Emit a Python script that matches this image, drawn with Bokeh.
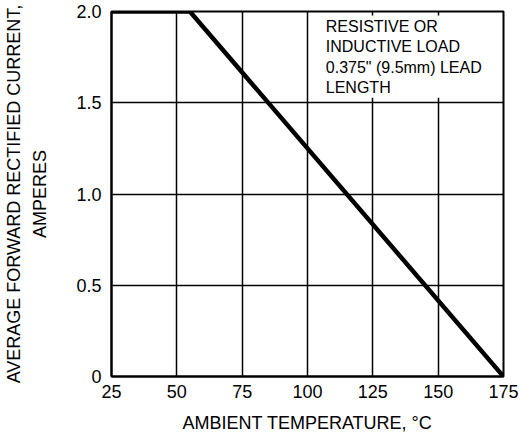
from bokeh.plotting import figure
from bokeh.models import FixedTicker, BoxAnnotation, Label
from bokeh.embed import file_html
from bokeh.resources import INLINE

# Data
temperature = [25, 55, 175]
current = [2.0, 2.0, 0.0]
x_ticks = [25, 50, 75, 100, 125, 150, 175]
y_ticks = [0, 0.5, 1.0, 1.5, 2.0]
y_tick_labels = {0: "0", 0.5: "0.5", 1.0: "1.0", 1.5: "1.5", 2.0: "2.0"}
note_text = "RESISTIVE OR\nINDUCTIVE LOAD\n0.375\" (9.5mm) LEAD\nLENGTH"
x_label = "AMBIENT TEMPERATURE, \u00b0C"
y_label = "AVERAGE FORWARD RECTIFIED CURRENT,\nAMPERES"

FONT = "Liberation Sans"

p = figure(frame_width=392, frame_height=365, output_backend="svg", toolbar_location=None,
           x_range=(25, 175), y_range=(0, 2.0),
           min_border_left=111, min_border_right=16, min_border_top=11, min_border_bottom=64)

p.background_fill_color = "white"
p.border_fill_color = "white"
p.outline_line_color = "black"
p.outline_line_width = 2
p.outline_line_alpha = 1.0

p.xaxis.ticker = FixedTicker(ticks=x_ticks)
p.yaxis.ticker = FixedTicker(ticks=y_ticks)
p.yaxis.major_label_overrides = y_tick_labels

for ax in (p.xaxis, p.yaxis):
    ax.axis_line_color = "black"
    ax.axis_line_width = 2
    ax.major_tick_out = 0
    ax.major_tick_in = 0
    ax.minor_tick_out = 0
    ax.minor_tick_in = 0
    ax.major_label_text_font = FONT
    ax.major_label_text_font_size = "18px"
    ax.major_label_text_color = "black"
    ax.axis_label_text_font = FONT
    ax.axis_label_text_font_size = "18px"
    ax.axis_label_text_font_style = "normal"
    ax.axis_label_text_color = "black"

p.xaxis.axis_label = x_label
p.yaxis.axis_label = y_label
p.xaxis.major_label_standoff = 8
p.yaxis.major_label_standoff = 10
p.xaxis.axis_label_standoff = 12
p.yaxis.axis_label_standoff = 23
p.yaxis.axis_label_text_line_height = 1.3

p.xgrid.ticker = FixedTicker(ticks=x_ticks)
p.ygrid.ticker = FixedTicker(ticks=y_ticks)
for g in (p.xgrid, p.ygrid):
    g.grid_line_color = "black"
    g.grid_line_width = 1.5
    g.grid_line_alpha = 1.0

p.line(temperature, current, line_color="black", line_width=4.5, line_join="miter")

box = BoxAnnotation(left=100.7, right=174.3, bottom=1.527, top=1.978,
                    fill_color="white", fill_alpha=1.0, line_alpha=0)
p.add_layout(box)

note = Label(x=107, y=1.962, text=note_text, text_font=FONT, text_font_size="16px",
             text_color="black", text_baseline="top", text_align="left",
             text_line_height=1.18)
p.add_layout(note)

open("out.html", "w").write(file_html(p, INLINE))
